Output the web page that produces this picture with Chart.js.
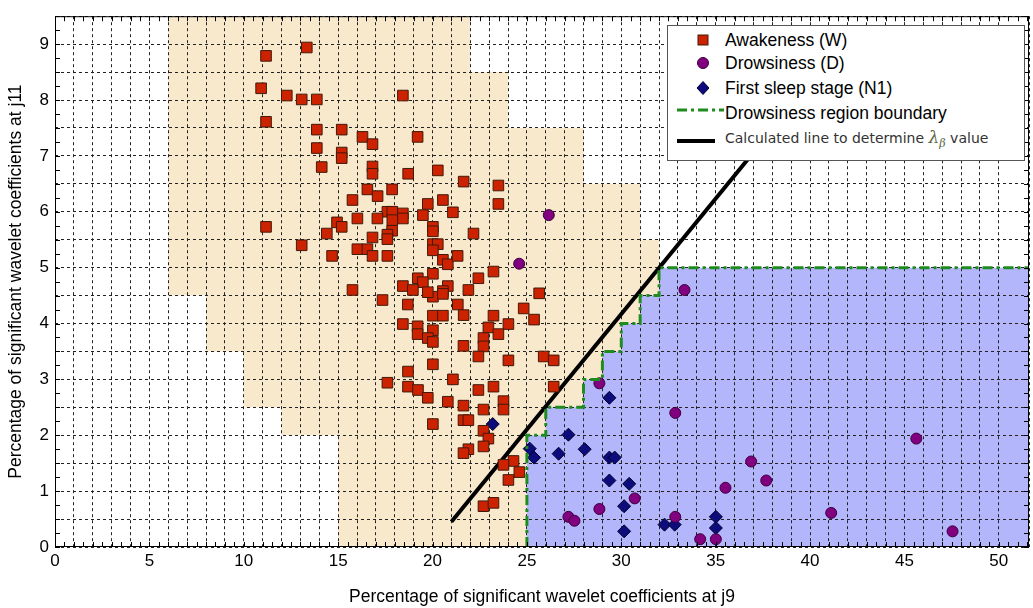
<!DOCTYPE html>
<html>
<head>
<meta charset="utf-8">
<script src="https://cdn.jsdelivr.net/npm/chart.js@4/dist/chart.umd.min.js"></script>
<style>
    html, body { margin: 0; padding: 0; background: #fff; }
    #wrap { position: relative; width: 1033px; height: 608px; }
    #legend {
        position: absolute; left: 667px; top: 25px; width: 358px; height: 136px;
        box-sizing: border-box; background: #fff; border: 1px solid #555;
        font-family: 'Liberation Sans', Arial, sans-serif; font-size: 17.5px; color: #000;
    }
    #legend .row { position: absolute; left: 0; height: 24px; display: flex; align-items: center; white-space: nowrap; }
    #legend svg { flex: none; }
    #legend .small { font-family: 'DejaVu Sans', sans-serif; font-size: 14px; color: #333; }
    #legend .lam { font-family: 'DejaVu Serif', serif; font-style: italic; font-size: 17px; color: #56663f; }
    #legend .lam sub { font-size: 11px; }
</style>
</head>
<body>
<div id="wrap">
    <canvas id="chart"></canvas>
    <div id="legend">
        <div class="row" style="top:2px">
            <svg width="57" height="24"><rect x="30" y="7" width="10" height="10" fill="#cc2200" stroke="#401a0c" stroke-width="1"/></svg>
            <span>Awakeness (W)</span>
        </div>
        <div class="row" style="top:25px">
            <svg width="57" height="24"><circle cx="35" cy="12" r="5.5" fill="#800080" stroke="#3c003c" stroke-width="1"/></svg>
            <span>Drowsiness (D)</span>
        </div>
        <div class="row" style="top:50px">
            <svg width="57" height="24"><polygon points="35,5.5 41,12 35,18.5 29,12" fill="#0c0c7c" stroke="#00002a" stroke-width="1"/></svg>
            <span>First sleep stage (N1)</span>
        </div>
        <div class="row" style="top:75px">
            <svg width="57" height="24"><line x1="9" y1="9" x2="56" y2="9" stroke="#1e8c1e" stroke-width="3" stroke-dasharray="10,4,3,4"/></svg>
            <span>Drowsiness region boundary</span>
        </div>
        <div class="row" style="top:101px">
            <svg width="57" height="24"><line x1="9" y1="14" x2="47" y2="14" stroke="#000" stroke-width="4"/></svg>
            <span class="small">Calculated line to determine <span class="lam">&lambda;<sub>&beta;</sub></span> value</span>
        </div>
    </div>
</div>
<script>

const awakePoints = [
    [13.34, 8.94], [11.18, 8.79], [10.92, 8.21], [12.28, 8.08], [13.07, 8.01], [13.87, 8.01], [18.43, 8.08],
    [11.18, 7.61], [13.87, 7.47], [15.19, 7.47], [16.29, 7.34], [16.82, 7.21], [19.21, 7.34], [13.87, 7.14],
    [15.19, 7.06], [15.19, 6.96], [14.13, 6.80], [16.82, 6.81], [16.82, 6.68], [18.71, 6.68], [20.28, 6.74],
    [21.65, 6.54], [23.49, 6.47], [23.49, 6.14], [16.55, 6.40], [17.86, 6.40], [15.76, 6.21], [17.09, 6.28],
    [19.75, 6.14], [20.55, 6.21], [21.08, 5.99], [19.49, 5.94], [17.61, 6.00], [17.87, 6.00], [18.43, 5.97],
    [18.43, 5.88], [17.87, 5.85], [14.94, 5.81], [15.19, 5.73], [16.02, 5.88], [17.08, 5.88], [17.86, 5.66],
    [17.61, 5.59], [20.02, 5.73], [20.02, 5.65], [22.17, 5.61], [14.40, 5.61], [11.18, 5.73], [13.07, 5.40],
    [16.02, 5.33], [16.55, 5.33], [16.82, 5.21], [14.68, 5.21], [17.61, 5.21], [20.02, 5.42], [20.28, 5.42],
    [20.02, 5.31], [20.55, 5.14], [20.81, 5.06], [21.33, 5.21], [23.23, 4.93], [22.43, 4.81], [20.02, 4.89],
    [19.22, 4.81], [19.49, 4.74], [15.76, 4.60], [18.43, 4.67], [18.96, 4.60], [20.81, 4.67], [20.55, 4.58],
    [20.02, 4.48], [20.55, 4.53], [21.90, 4.60], [25.65, 4.54], [17.35, 4.42], [18.69, 4.34], [21.34, 4.34],
    [21.65, 4.15], [24.83, 4.27], [25.38, 4.07], [20.02, 4.14], [20.55, 4.14], [23.23, 4.14], [18.43, 3.99],
    [19.21, 3.95], [19.21, 3.81], [20.02, 3.88], [19.75, 3.74], [20.02, 3.67], [22.96, 3.93], [24.02, 3.99],
    [23.49, 3.81], [22.70, 3.74], [22.70, 3.59], [21.64, 3.60], [22.43, 3.41], [24.02, 3.34], [25.89, 3.41],
    [26.42, 3.34], [20.02, 3.27], [18.70, 3.14], [17.61, 2.94], [18.70, 2.87], [19.23, 2.81], [19.75, 2.67],
    [21.08, 3.00], [22.43, 2.81], [23.23, 2.87], [26.42, 2.87], [20.81, 2.60], [21.64, 2.53], [22.70, 2.46],
    [23.76, 2.61], [23.76, 2.46], [20.02, 2.20], [21.64, 2.27], [21.90, 2.27], [22.70, 2.08], [22.96, 1.94],
    [22.70, 1.80], [21.90, 1.75], [21.64, 1.68], [24.29, 1.54], [23.76, 1.47], [24.60, 1.34], [24.02, 1.20],
    [22.70, 0.73], [23.23, 0.79], [19.75, 4.56], [17.61, 5.51], [16.82, 5.54]
];

const drowsyPoints = [
    [24.59, 5.07], [26.16, 5.94], [33.35, 4.60], [28.84, 2.93], [32.86, 2.40], [45.63, 1.94], [36.88, 1.53],
    [37.68, 1.19], [35.52, 1.06], [30.71, 0.87], [28.84, 0.68], [27.20, 0.54], [27.52, 0.47], [32.86, 0.54],
    [41.12, 0.61], [47.55, 0.28], [34.18, 0.14], [35.01, 0.14]
];

const stagePoints = [
    [23.19, 2.20], [29.37, 2.67], [27.20, 2.01], [28.06, 1.75], [26.68, 1.67], [25.15, 1.76], [25.38, 1.60],
    [29.37, 1.60], [29.65, 1.60], [29.37, 1.19], [30.42, 1.13], [30.15, 0.73], [30.15, 0.28], [32.29, 0.40],
    [32.83, 0.40], [35.01, 0.54], [35.01, 0.34]
];

// staircase regions (polygons)
const awakeRegion = [
    [6, 9.5], [22, 9.5], [22, 8.5], [24, 8.5], [24, 7.5], [28, 7.5], [28, 6.5], [31, 6.5], [31, 5.5], [32, 5.5],
    [32, 4.5], [31, 4.5], [31, 4], [30, 4], [30, 3.5], [29, 3.5], [29, 3], [28, 3], [28, 2.5], [26, 2.5],
    [26, 2], [25, 2], [25, 0], [15, 0], [15, 2], [12, 2], [12, 2.5], [10, 2.5], [10, 3.5], [8, 3.5], [8, 4.5], [6, 4.5]
];

const drowsyRegion = [
    [55, 0], [25, 0], [25, 2], [26, 2], [26, 2.5], [28, 2.5], [28, 3], [29, 3], [29, 3.5], [30, 3.5], [30, 4],
    [31, 4], [31, 4.5], [32, 4.5], [32, 5], [55, 5]
];

const regionBoundary = [
    [25, 0], [25, 2], [26, 2], [26, 2.5], [28, 2.5], [28, 3], [29, 3], [29, 3.5], [30, 3.5], [30, 4],
    [31, 4], [31, 4.5], [32, 4.5], [32, 5], [55, 5]
];

const lambdaLine = [ [21, 0.45], [37, 7.06] ];

const xLabels = [ 0, 5, 10, 15, 20, 25, 30, 35, 40, 45, 50 ];
const yLabels = [ 0, 1, 2, 3, 4, 5, 6, 7, 8, 9 ];

const toXY = arr => arr.map( ( [ x, y ] ) => ( { x, y } ) );

// frame with small inward ticks on all four sides
const frameTicks = {
    id: 'frameTicks',
    afterDraw ( chart ) {
        const { ctx, chartArea: a, scales: { x, y } } = chart;
        ctx.save();
        ctx.strokeStyle = '#000';
        ctx.lineWidth = 1;
        ctx.beginPath();
        for ( let v = 0; v <= x.max; v += 0.5 ) {
            const px = Math.round( x.getPixelForValue( v ) ) + 0.5;
            ctx.moveTo( px, a.bottom ); ctx.lineTo( px, a.bottom - 5 );
            ctx.moveTo( px, a.top ); ctx.lineTo( px, a.top + 5 );
        }
        for ( let v = 0; v <= y.max; v += 0.25 ) {
            const py = Math.round( y.getPixelForValue( v ) ) + 0.5;
            ctx.moveTo( a.left, py ); ctx.lineTo( a.left + 5, py );
            ctx.moveTo( a.right, py ); ctx.lineTo( a.right - 5, py );
        }
        ctx.stroke();
        ctx.strokeRect( a.left + 0.5, a.top + 0.5, a.width - 1, a.height - 1 );
        ctx.restore();
    }
};

document.addEventListener( 'DOMContentLoaded', function () {

    Chart.defaults.responsive = true;
    Chart.defaults.maintainAspectRatio = false;
    Chart.defaults.animation = false;
    Chart.defaults.font.family = "'Liberation Sans', Arial, sans-serif";
    Chart.defaults.font.size = 17;
    Chart.defaults.color = '#000';

    const grid = { color: '#222', lineWidth: 1, drawTicks: false };
    const border = { display: false, dash: [ 3, 3 ] };

    new Chart( document.getElementById( 'chart' ), {
        type: 'scatter',
        data: {
            datasets: [ {
                type: 'line',
                data: toXY( regionBoundary ),
                order: 0,
                borderColor: '#1e8c1e',
                borderWidth: 3,
                borderDash: [ 10, 4, 3, 4 ],
                pointRadius: 0,
                fill: false
            }, {
                data: toXY( awakePoints ),
                order: 1,
                pointStyle: 'rect',
                pointRadius: 7.5,
                backgroundColor: '#cc2200',
                borderColor: '#401a0c',
                borderWidth: 1
            }, {
                data: toXY( drowsyPoints ),
                order: 1,
                pointStyle: 'circle',
                pointRadius: 5.5,
                backgroundColor: '#800080',
                borderColor: '#3c003c',
                borderWidth: 1
            }, {
                data: toXY( stagePoints ),
                order: 1,
                pointStyle: 'rectRot',
                pointRadius: 6.5,
                backgroundColor: '#0c0c7c',
                borderColor: '#00002a',
                borderWidth: 1
            }, {
                type: 'line',
                data: toXY( lambdaLine ),
                order: 2,
                borderColor: '#000',
                borderWidth: 4,
                pointRadius: 0,
                fill: false
            }, {
                type: 'line',
                data: toXY( drowsyRegion ),
                order: 3,
                fill: 'shape',
                backgroundColor: '#b3b6fa',
                borderColor: 'transparent',
                borderWidth: 0,
                pointRadius: 0
            }, {
                type: 'line',
                data: toXY( awakeRegion ),
                order: 3,
                fill: 'shape',
                backgroundColor: '#f9e9cc',
                borderColor: 'transparent',
                borderWidth: 0,
                pointRadius: 0
            } ]
        },
        options: {
            events: [],
            layout: { autoPadding: false, padding: { top: 9, right: 0, bottom: 0, left: 0 } },
            plugins: {
                legend: { display: false },
                tooltip: { enabled: false },
                filler: { drawTime: 'beforeDraw' }
            },
            scales: {
                x: {
                    type: 'linear',
                    min: 0, max: 51.6,
                    grid, border,
                    afterFit: s => { s.height = 61; },
                    ticks: {
                        stepSize: 1, maxTicksLimit: 100, autoSkip: false,
                        maxRotation: 0, minRotation: 0, padding: 4,
                        callback: v => xLabels.includes( v ) ? v : ''
                    },
                    title: {
                        display: true,
                        text: 'Percentage of significant wavelet coefficients at j9',
                        font: { size: 17.5 },
                        padding: { top: 0, bottom: 0 }
                    }
                },
                y: {
                    min: 0, max: 9.5,
                    grid, border,
                    afterFit: s => { s.width = 55; },
                    ticks: {
                        stepSize: 0.5, maxTicksLimit: 100, autoSkip: false, padding: 6,
                        callback: v => yLabels.includes( v ) ? v : ''
                    },
                    title: {
                        display: true,
                        text: 'Percentage of significant wavelet coefficients at j11',
                        font: { size: 17.5 },
                        padding: { top: 6, bottom: 0 }
                    }
                }
            }
        },
        plugins: [ frameTicks ]
    } );

} );
</script>
</body>
</html>
